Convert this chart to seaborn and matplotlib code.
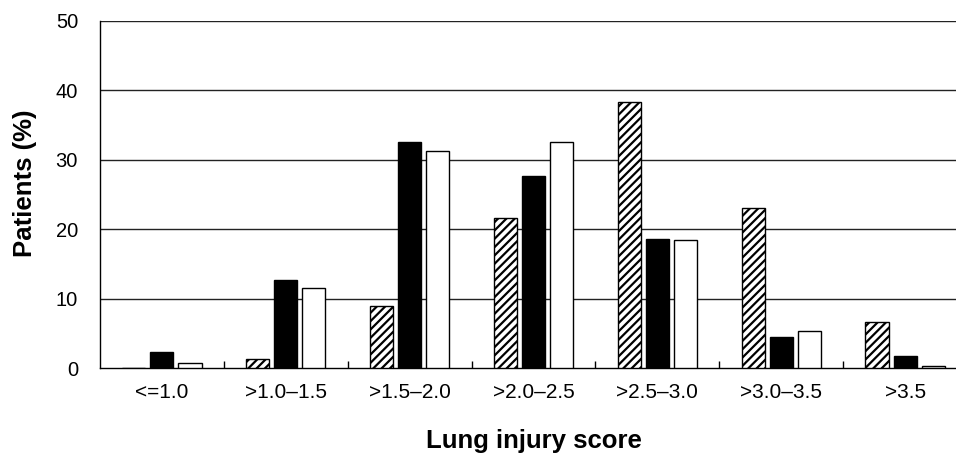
import seaborn as sns
import matplotlib.pyplot as plt
import numpy as np
import pandas as pd

categories = ['<=1.0', '>1.0\u20131.5', '>1.5\u20132.0', '>2.0\u20132.5',
              '>2.5\u20133.0', '>3.0\u20133.5', '>3.5']
groups = ['Group A', 'Group B', 'Group C']
group_a = [0.0, 1.3, 9.0, 21.6, 38.3, 23.1, 6.6]
group_b = [2.3, 12.7, 32.6, 27.7, 18.6, 4.5, 1.8]
group_c = [0.7, 11.5, 31.2, 32.6, 18.4, 5.3, 0.3]

df = pd.DataFrame({
    'score': categories * 3,
    'group': np.repeat(groups, len(categories)),
    'pct': group_a + group_b + group_c,
})

sns.set_style('white')
plt.rcParams['font.family'] = ['Liberation Sans', 'DejaVu Sans']
plt.rcParams['hatch.linewidth'] = 1.6
for key in ['text.color', 'axes.labelcolor', 'xtick.color', 'ytick.color']:
    plt.rcParams[key] = 'black'

fig = plt.figure(figsize=(9.56, 4.53), dpi=100)
ax = fig.add_axes([100 / 956, 85 / 453, 867 / 956, 347 / 453])

sns.barplot(data=df, x='score', y='pct', hue='group', order=categories,
            hue_order=groups, palette=['white', 'black', 'white'],
            edgecolor='black', linewidth=1, width=0.68, gap=0.18,
            legend=False, ax=ax, zorder=3)

# hatch the first group
for bar in ax.containers[0]:
    bar.set_hatch('////')

ax.set_ylim(0, 50)
ax.set_xlim(-0.5, len(categories) - 0.5)
ax.set_yticks(range(0, 51, 10))
for y in range(10, 51, 10):
    ax.axhline(y, color='#222222', lw=1.0, zorder=1)

ax.set_xticks(np.arange(0.5, len(categories) - 0.5), minor=True)
ax.tick_params(axis='x', which='minor', direction='in', length=5,
               width=1, color='black', bottom=True)
ax.tick_params(axis='x', which='major', length=0, pad=11, labelsize=15)
ax.tick_params(axis='y', length=0, pad=15.8, labelsize=14.5)

for s in ['top', 'right']:
    ax.spines[s].set_visible(False)
for s in ['left', 'bottom']:
    ax.spines[s].set_color('black')
    ax.spines[s].set_linewidth(1.0)

ax.set_xlabel('Lung injury score', fontsize=18.5, fontweight='bold')
ax.set_ylabel('Patients (%)', fontsize=18.5, fontweight='bold')
ax.xaxis.set_label_coords(0.5, -0.175)
ax.yaxis.set_label_coords(-0.073, 0.533)

fig.savefig('out.png', dpi=100)
